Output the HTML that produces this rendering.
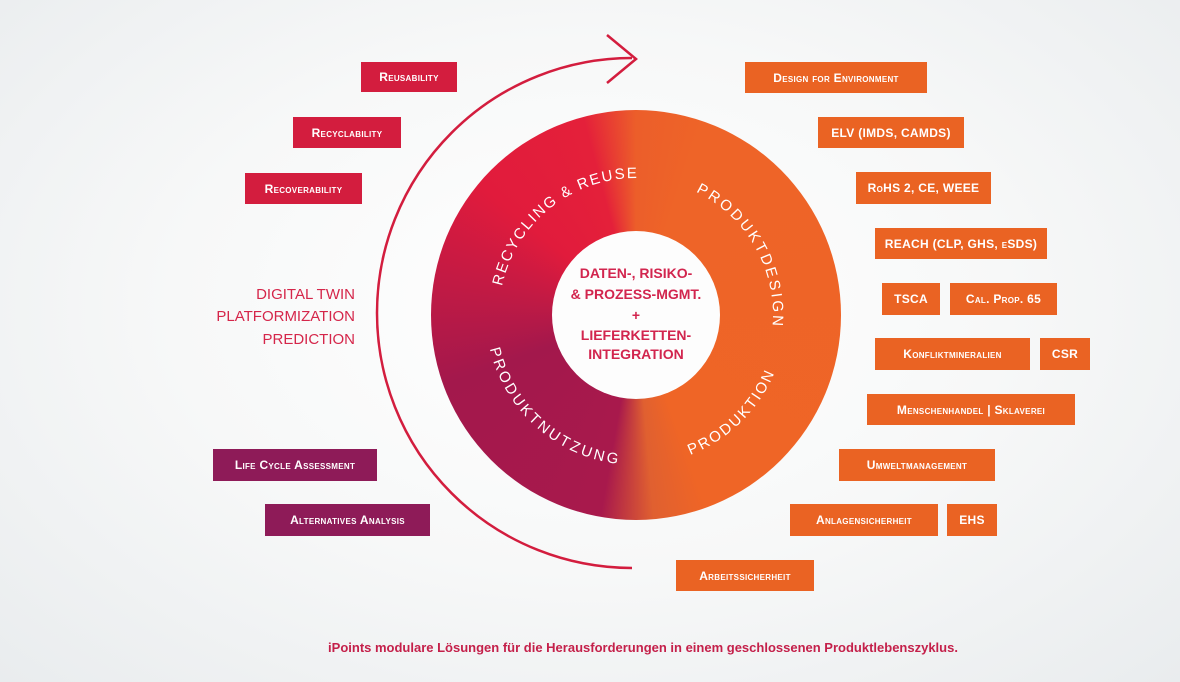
<!DOCTYPE html>
<html><head><meta charset="utf-8"><style>
html,body{margin:0;padding:0}
body{width:1180px;height:682px;position:relative;overflow:hidden;font-family:"Liberation Sans",sans-serif;
background:radial-gradient(ellipse at 50% 45%,#ffffff 0%,#f7f8f8 50%,#e9ecee 100%);}
.b{position:absolute;color:#fff;font-weight:bold;font-size:12px;font-variant:small-caps;letter-spacing:0.3px;display:flex;align-items:center;justify-content:center;white-space:nowrap}
.r{background:#d31d3e}.o{background:#ea6323}.p{background:#8e1b58}
.donut{position:absolute;left:431px;top:110px;width:410px;height:410px;border-radius:50%;
background:conic-gradient(from 0deg,#ec5e2a 0deg,#ee6428 20deg,#ef6526 160deg,#e06030 175deg,#a8194c 190deg,#a3184c 250deg,#c21a44 280deg,#e11b3c 310deg,#e4203a 345deg,#ec5e2a 360deg);}
.hole{position:absolute;left:552px;top:231px;width:168px;height:168px;border-radius:50%;background:#fdfdfd}
</style></head><body>
<div class="donut"></div><div class="hole"></div>
<svg width="1180" height="682" style="position:absolute;left:0;top:0">
<defs>
<path id="cw" d="M499,315 A137,137 0 1 1 773,315 A137,137 0 1 1 499,315"/>
<path id="ccw" d="M486,315 A150,150 0 1 0 786,315 A150,150 0 1 0 486,315"/>
</defs>
<path d="M632,568 A255,255 0 0 1 632,58" fill="none" stroke="#d31d3e" stroke-width="2.5"/>
<polyline points="607,35 636,59 607,83" fill="none" stroke="#d31d3e" stroke-width="2.5"/>
<g fill="#fff" font-family="Liberation Sans,sans-serif" font-size="15" letter-spacing="3">
<text><textPath href="#cw" startOffset="29" textLength="190">RECYCLING &amp; REUSE</textPath></text>
<text><textPath href="#cw" startOffset="277" textLength="167">PRODUKTDESIGN</textPath></text>
<text><textPath href="#ccw" startOffset="34" textLength="186">PRODUKTNUTZUNG</textPath></text>
<text><textPath href="#ccw" startOffset="291" textLength="123">PRODUKTION</textPath></text>
</g>
<g fill="#d2254e" font-family="Liberation Sans,sans-serif" font-size="14" font-weight="bold" text-anchor="middle">
<text x="636" y="278">DATEN-, RISIKO-</text>
<text x="636" y="299">&amp; PROZESS-MGMT.</text>
<text x="636" y="320">+</text>
<text x="636" y="340">LIEFERKETTEN-</text>
<text x="636" y="359">INTEGRATION</text>
</g>
<g fill="#d5264a" font-family="Liberation Sans,sans-serif" font-size="15" text-anchor="end">
<text x="355" y="299">DIGITAL TWIN</text>
<text x="355" y="321">PLATFORMIZATION</text>
<text x="355" y="344">PREDICTION</text>
</g>
<text x="643" y="652" fill="#c4204a" font-family="Liberation Sans,sans-serif" font-size="13" font-weight="bold" text-anchor="middle">iPoints modulare Lösungen für die Herausforderungen in einem geschlossenen Produktlebenszyklus.</text>
</svg>
<div class="b r" style="left:361px;top:62px;width:96px;height:30px">Reusability</div>
<div class="b r" style="left:293px;top:117px;width:108px;height:31px">Recyclability</div>
<div class="b r" style="left:245px;top:173px;width:117px;height:31px">Recoverability</div>
<div class="b p" style="left:213px;top:449px;width:164px;height:32px">Life Cycle Assessment</div>
<div class="b p" style="left:265px;top:504px;width:165px;height:32px">Alternatives Analysis</div>
<div class="b o" style="left:745px;top:62px;width:182px;height:31px">Design for Environment</div>
<div class="b o" style="left:818px;top:117px;width:146px;height:31px">ELV (IMDS, CAMDS)</div>
<div class="b o" style="left:856px;top:172px;width:135px;height:32px">RoHS 2, CE, WEEE</div>
<div class="b o" style="left:875px;top:228px;width:172px;height:31px">REACH (CLP, GHS, eSDS)</div>
<div class="b o" style="left:882px;top:283px;width:58px;height:32px">TSCA</div>
<div class="b o" style="left:950px;top:283px;width:107px;height:32px">Cal. Prop. 65</div>
<div class="b o" style="left:875px;top:338px;width:155px;height:32px">Konfliktmineralien</div>
<div class="b o" style="left:1040px;top:338px;width:50px;height:32px">CSR</div>
<div class="b o" style="left:867px;top:394px;width:208px;height:31px">Menschenhandel | Sklaverei</div>
<div class="b o" style="left:839px;top:449px;width:156px;height:32px">Umweltmanagement</div>
<div class="b o" style="left:790px;top:504px;width:148px;height:32px">Anlagensicherheit</div>
<div class="b o" style="left:947px;top:504px;width:50px;height:32px">EHS</div>
<div class="b o" style="left:676px;top:560px;width:138px;height:31px">Arbeitssicherheit</div>
</body></html>
